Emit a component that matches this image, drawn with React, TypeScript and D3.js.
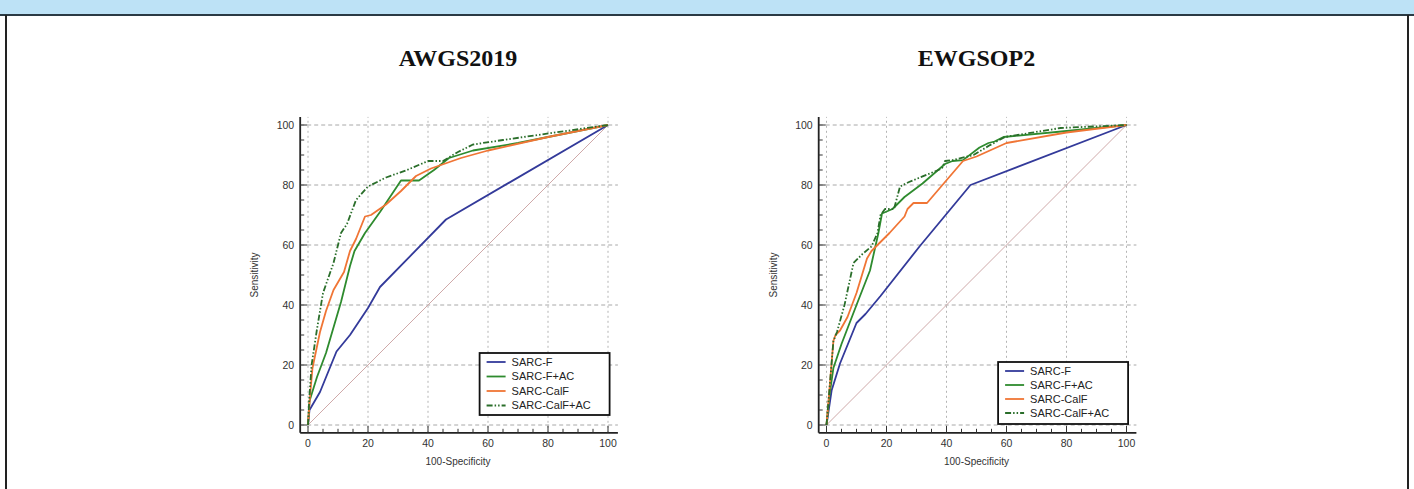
import React from "react";
import * as d3 from "d3";

type Pt = [number, number];

const seriesNames = ["SARC-F", "SARC-F+AC", "SARC-CalF", "SARC-CalF+AC"];
const seriesColors = ["#333a9a", "#2e8b2e", "#f07535", "#2a6e2a"];
const seriesDash = ["", "", "", "6,2,1.5,2,1.5,2"];
const xTicks = [0, 20, 40, 60, 80, 100];
const yTicks = [0, 20, 40, 60, 80, 100];
const minorTicks = d3.range(0, 101, 5);

const awgsSarcF: Pt[] = [[0,0],[0.5,5],[4,11],[9.5,24.5],[14,30],[20,39],[24,46],[46,68.5],[100,100]];
const awgsSarcFAC: Pt[] = [[0,0],[0.5,8],[3,16],[6,24],[11,41],[14,53],[15.5,58],[19,64],[24,71],[31,81.5],[37,81.5],[42,85],[47,89],[55,91.5],[70,94],[85,97],[100,100]];
const awgsSarcCalF: Pt[] = [[0,0],[0.7,10],[1.5,19],[4,31],[6,38],[8.5,45],[12,51],[14,58],[16,62],[19,69.5],[21,70],[26,73.5],[31,78],[36,83],[41,85.5],[51,89],[60,91.5],[80,96],[100,100]];
const awgsSarcCalFAC: Pt[] = [[0,0],[0.5,10],[1.2,20],[3,32],[5,44],[8.5,54],[11,64],[13,67],[16,75],[20,79.5],[26,82.5],[33,85],[40,88],[45,88],[50,91],[55,93.5],[65,95],[81,97.3],[100,100]];

const ewgSarcF: Pt[] = [[0,0],[1.7,11.5],[4.5,20.5],[10,34],[13,37],[18,43],[31,59.5],[48,80],[100,100]];
const ewgSarcFAC: Pt[] = [[0,0],[1,10],[2.3,19],[5,27],[10,40],[14.5,51.5],[17.3,64],[18.5,70.5],[22,72],[26,76],[32,80.5],[39.5,87],[42,88],[45.5,88.3],[51,92.5],[54,94],[56,94.5],[59,96],[80,98],[100,100]];
const ewgSarcCalF: Pt[] = [[0,0],[1,12],[2.3,28],[3,30],[4.5,31.5],[7,36],[10,44],[13.5,55.5],[15,58],[21,64],[26,69.5],[27,72],[29,74],[33.5,74],[45.5,88],[50,89.5],[60,94],[80,97.5],[100,100]];
const ewgSarcCalFAC: Pt[] = [[0,0],[1,12],[2.3,28],[3.5,31],[6,40],[9,54],[12,57],[15,59.5],[17,64],[18,70],[19.5,72],[22.5,72],[24.5,79.5],[27.5,81],[38.5,85.5],[39.5,88],[42,88.3],[49,90],[54.5,93.3],[59.5,96],[78,99],[100,100]];

const diagonal: Pt[] = [[0,0],[100,100]];

interface PanelProps {
  title: string;
  x0: number;
  series: Pt[][];
  legendTop: number;
  legendRowH: number;
}

const Panel: React.FC<PanelProps> = ({ title, x0, series, legendTop, legendRowH }) => {
  const x = d3.scaleLinear().domain([0, 100]).range([x0, x0 + 300]);
  const y = d3.scaleLinear().domain([0, 100]).range([425, 125]);
  const xMin = x(-2.6), xMax = x(103.3);
  const yMin = y(-2.6), yMax = y(102.7);
  const line = d3.line<Pt>().x(d => x(d[0])).y(d => y(d[1]));
  const font = "Arial, 'Liberation Sans', sans-serif";
  const lgX = x(57.2), lgW = 130, lgH = 62;
  return (
    <g>
      <text x={x(50)} y={66} textAnchor="middle" fontFamily="'Liberation Serif', 'Times New Roman', serif" fontWeight="bold" fontSize={24} fill="#111">{title}</text>
      {yTicks.map(t => (
        <line key={"gy" + t} x1={xMin} x2={xMax} y1={y(t)} y2={y(t)} stroke="#a8a8a8" strokeWidth={1} strokeDasharray="4,3" />
      ))}
      {xTicks.map(t => (
        <line key={"gx" + t} x1={x(t)} x2={x(t)} y1={yMin} y2={yMax} stroke="#b4b4b4" strokeWidth={1} strokeDasharray="2,3" />
      ))}
      <path d={line(diagonal) || ""} fill="none" stroke="#cfa9a9" strokeWidth={1} />
      {series.map((s, i) => (
        <path key={"s" + i} d={line(s) || ""} fill="none" stroke={seriesColors[i]} strokeWidth={1.8} strokeDasharray={seriesDash[i]} strokeLinejoin="round" />
      ))}
      <line x1={xMin} x2={xMin} y1={yMax} y2={yMin} stroke="#222" strokeWidth={1.8} />
      <line x1={xMin} x2={xMax} y1={yMin} y2={yMin} stroke="#222" strokeWidth={1.8} />
      {minorTicks.map(t => (
        <g key={"mt" + t}>
          <line x1={xMin} x2={xMin + (t % 20 === 0 ? 7 : 4)} y1={y(t)} y2={y(t)} stroke="#333" strokeWidth={1} />
          <line x1={x(t)} x2={x(t)} y1={yMin} y2={yMin - (t % 20 === 0 ? 7 : 4)} stroke="#333" strokeWidth={1} />
        </g>
      ))}
      {yTicks.map(t => (
        <text key={"yl" + t} x={xMin - 6} y={y(t)} dy="0.35em" textAnchor="end" fontFamily={font} fontSize={10.5} fill="#333">{t}</text>
      ))}
      {xTicks.map(t => (
        <text key={"xl" + t} x={x(t)} y={yMin + 14} textAnchor="middle" fontFamily={font} fontSize={10.5} fill="#333">{t}</text>
      ))}
      <text x={x(50)} y={yMin + 32} textAnchor="middle" fontFamily={font} fontSize={10} fill="#333">100-Specificity</text>
      <text transform={`translate(${xMin - 42},${y(50)}) rotate(-90)`} textAnchor="middle" fontFamily={font} fontSize={10} fill="#333">Sensitivity</text>
      <rect x={lgX} y={legendTop} width={lgW} height={lgH} fill="#fff" stroke="#111" strokeWidth={1.8} />
      {seriesNames.map((n, i) => {
        const cy = legendTop + 9 + i * legendRowH;
        return (
          <g key={"lg" + i}>
            <line x1={lgX + 7} x2={lgX + 26} y1={cy} y2={cy} stroke={seriesColors[i]} strokeWidth={1.8} strokeDasharray={seriesDash[i]} />
            <text x={lgX + 32} y={cy} dy="0.35em" fontFamily={font} fontSize={11} fill="#222">{n}</text>
          </g>
        );
      })}
    </g>
  );
};

export default function App() {
  return (
    <svg width={1414} height={489} style={{ position: "absolute", left: 0, top: 0, background: "#fff" }}>
      <rect x={0} y={0} width={1414} height={14} fill="#bde2f6" />
      <line x1={0} x2={1414} y1={15} y2={15} stroke="#2b3a44" strokeWidth={2} />
      <line x1={6} x2={6} y1={15} y2={489} stroke="#222" strokeWidth={2} />
      <line x1={1408} x2={1408} y1={15} y2={489} stroke="#222" strokeWidth={2} />
      <Panel title="AWGS2019" x0={308} series={[awgsSarcF, awgsSarcFAC, awgsSarcCalF, awgsSarcCalFAC]} legendTop={353} legendRowH={14.5} />
      <Panel title="EWGSOP2" x0={826.5} series={[ewgSarcF, ewgSarcFAC, ewgSarcCalF, ewgSarcCalFAC]} legendTop={362} legendRowH={14} />
    </svg>
  );
}
